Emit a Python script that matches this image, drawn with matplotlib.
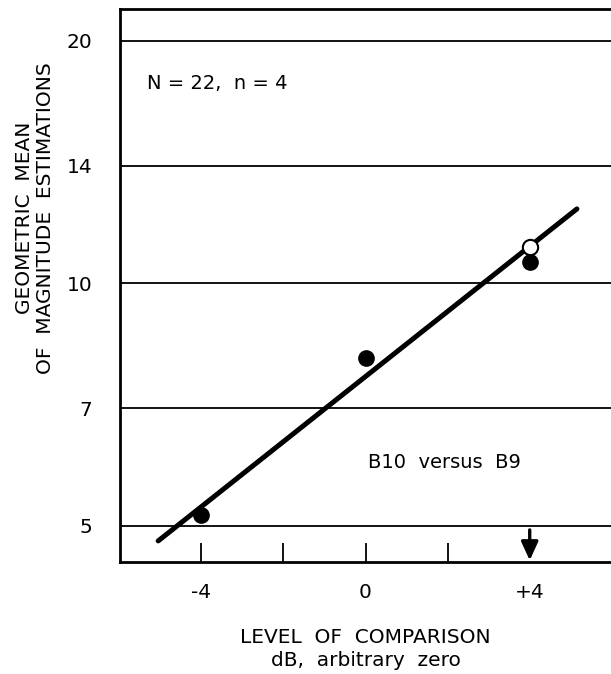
import matplotlib.pyplot as plt
from matplotlib.ticker import FixedLocator, NullLocator, NullFormatter

plt.rcParams['font.family'] = ['DejaVu Sans']

# data
levels = [-4, 0, 4]
means = [5.16, 8.07, 10.62]
open_level = [4]
open_mean = [11.08]
fit_x = [-5.05, 5.15]
fit_y = [4.79, 12.37]

y_ticks = [5, 7, 10, 14, 20]
y_labels = ['5', '7', '10', '14', '20']
x_ticks = [-4, -2, 0, 2, 4]
x_labels = ['-4', '', '0', '', '+4']

fig = plt.figure(figsize=(6.11, 6.74), dpi=100)
ax = fig.add_axes([120 / 611, 112 / 674, 1 - 120 / 611, 553 / 674])

ax.set_yscale('log')
ax.set_xlim(-5.98, 5.98)
ax.set_ylim(4.51, 21.9)

# horizontal rules
for v in y_ticks:
    ax.axhline(v, color='black', lw=1.3, zorder=1)

ax.plot(fit_x, fit_y, color='black', lw=3.6, solid_capstyle='round', zorder=2)
ax.plot(levels, means, 'o', color='black', ms=11, zorder=3)
ax.plot(open_level, open_mean, 'o', mfc='white', mec='black', mew=1.5, ms=11, zorder=4)

ax.yaxis.set_major_locator(FixedLocator(y_ticks))
ax.set_yticklabels(y_labels)
ax.yaxis.set_minor_locator(NullLocator())
ax.yaxis.set_minor_formatter(NullFormatter())
ax.tick_params(axis='y', length=0, pad=20, labelsize=14.5)

ax.set_xticks(x_ticks)
ax.set_xticklabels(x_labels)
ax.tick_params(axis='x', direction='in', length=14, width=1.3, pad=15, labelsize=14.5)
ax.xaxis.get_major_ticks()[4].tick1line.set_visible(False)

for s in ['left', 'top', 'bottom']:
    ax.spines[s].set_linewidth(2)
ax.spines['right'].set_visible(False)

# arrow at +4
ax.annotate('', xy=(4, 0.003), xycoords=('data', 'axes fraction'),
            xytext=(4, 0.058), textcoords=('data', 'axes fraction'),
            arrowprops=dict(arrowstyle='-|>,head_length=0.7,head_width=0.32',
                            color='black', lw=2.4,
                            mutation_scale=16, shrinkA=0, shrinkB=0))

ax.text(0.055, 0.865, 'N = 22,  n = 4', transform=ax.transAxes, fontsize=14,
        va='center', ha='left')
ax.text(0.505, 0.18, 'B10  versus  B9', transform=ax.transAxes, fontsize=14,
        va='center', ha='left')

fig.text(0.5 + 60 / 611, 1 - 649 / 674, 'LEVEL  OF  COMPARISON\ndB,  arbitrary  zero',
         ha='center', va='center', fontsize=14.5, linespacing=1.3)
fig.text(35 / 611, 1 - 218 / 674, 'GEOMETRIC  MEAN\nOF  MAGNITUDE  ESTIMATIONS',
         rotation=90, ha='center', va='center', fontsize=14.5, linespacing=1.15)

fig.savefig('out.png', dpi=100)
